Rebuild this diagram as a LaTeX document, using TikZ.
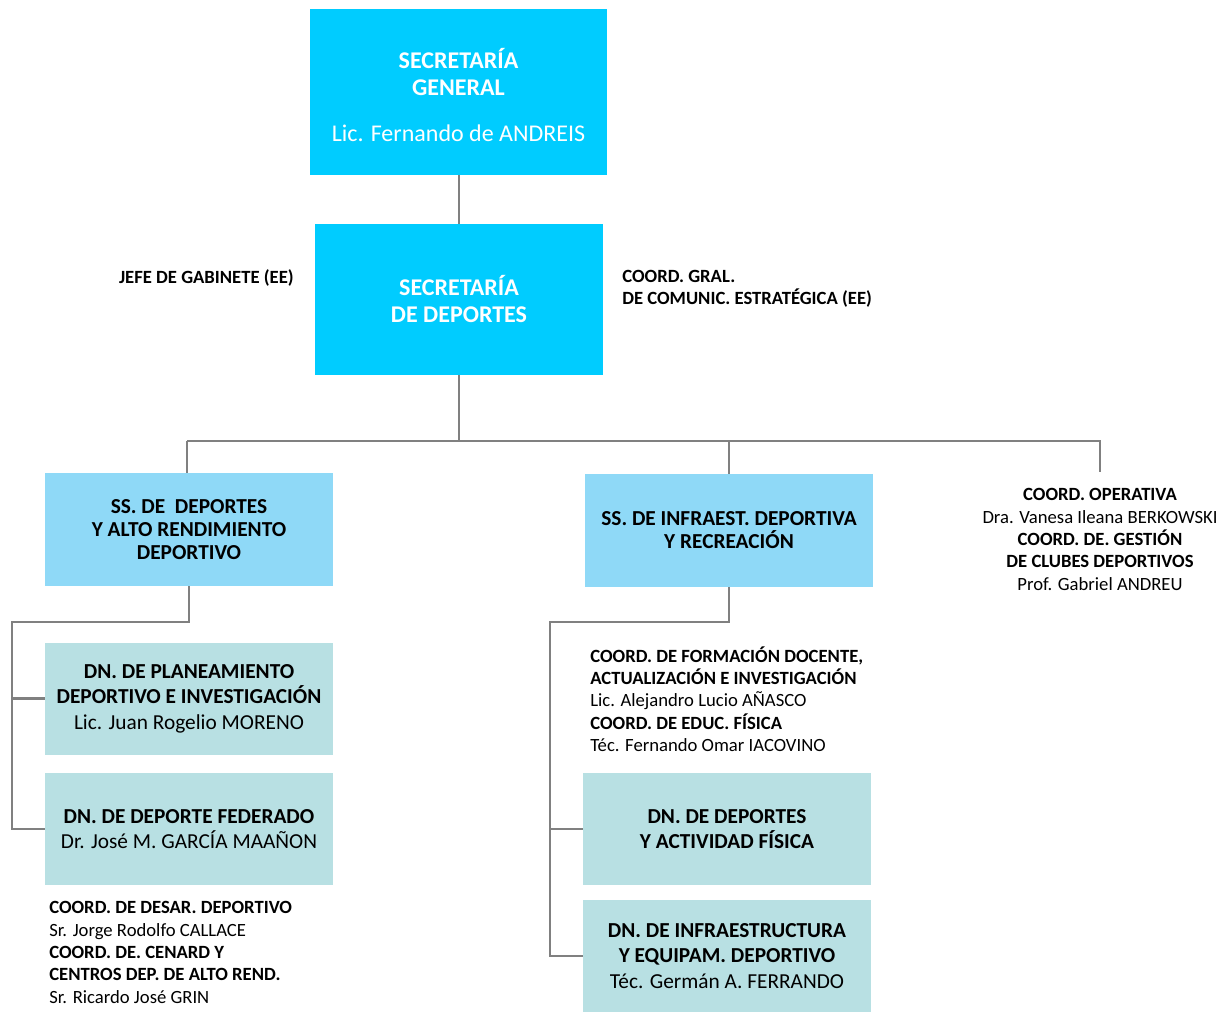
\documentclass[tikz,border=0pt]{standalone}
\usepackage{fontspec}
\setmainfont{Carlito}
\definecolor{sgcyan}{RGB}{0,204,255}
\definecolor{sslight}{RGB}{143,217,247}
\definecolor{dnteal}{RGB}{184,224,227}
\definecolor{linegray}{RGB}{128,128,128}
\begin{document}
\begin{tikzpicture}
 [
 x=0.75pt, y=-0.75pt,
 secbox/.style={rectangle, fill=sgcyan, text=white, align=center, minimum width=216pt, font=\fontsize{18}{20.25}\selectfont\bfseries},
 ssbox/.style={rectangle, fill=sslight, text=black, align=center, minimum width=216pt, minimum height=84.75pt, font=\fontsize{16}{17.25}\selectfont\bfseries},
 dnbox/.style={rectangle, fill=dnteal, text=black, align=center, minimum width=216pt, minimum height=84pt, font=\fontsize{16}{19.1}\selectfont},
 notetext/.style={inner sep=0pt, text=black, font=\fontsize{14}{16.75}\selectfont},
 orgline/.style={draw=linegray, line width=1.6pt}
 ]
 \useasboundingbox (0,0) rectangle (1227,1016);
 \node at (458.5,92) [secbox, minimum width=222.75pt, minimum height=124.5pt] (secgral) {\rule{0pt}{20pt}SECRETAR\'IA\\GENERAL\\[14pt]\mdseries Lic. Fernando de ANDREIS};
 \node at (459,299.5) [secbox, minimum height=113.25pt] (secdep) {SECRETAR\'IA\\DE DEPORTES};
 \node at (294,278) [notetext, anchor=east] (jefe) {\bfseries JEFE DE GABINETE (EE)};
 \node at (622,289) [notetext, anchor=west, align=left] (comunic) {\bfseries COORD. GRAL.\\\bfseries DE COMUNIC. ESTRAT\'EGICA (EE)};
 \node at (189,529.5) [ssbox] (ssalto) {SS. DE\ \ DEPORTES\\Y ALTO RENDIMIENTO\\DEPORTIVO};
 \node at (729,530.5) [ssbox] (ssinfra) {SS. DE INFRAEST. DEPORTIVA\\Y RECREACI\'ON};
 \node at (1100,539.5) [notetext, align=center] (operativa) {\bfseries COORD. OPERATIVA\\Dra. Vanesa Ileana BERKOWSKI\\\bfseries COORD. DE. GESTI\'ON\\\bfseries DE CLUBES DEPORTIVOS\\Prof. Gabriel ANDREU};
 \node at (189,698.5) [dnbox] (dnplan) {\bfseries DN. DE PLANEAMIENTO\\\bfseries DEPORTIVO E INVESTIGACI\'ON\\Lic. Juan Rogelio MORENO};
 \node at (189,829) [dnbox] (dnfed) {\bfseries DN. DE DEPORTE FEDERADO\\Dr. Jos\'e M. GARC\'IA MAA\~NON};
 \node at (49,952.5) [notetext, anchor=west, align=left] (desar) {\bfseries COORD. DE DESAR. DEPORTIVO\\Sr. Jorge Rodolfo CALLACE\\\bfseries COORD. DE. CENARD Y\\\bfseries CENTROS DEP. DE ALTO REND.\\Sr. Ricardo Jos\'e GRIN};
 \node at (590,699) [notetext, anchor=west, align=left] (formacion) {\bfseries COORD. DE FORMACI\'ON DOCENTE,\\\bfseries ACTUALIZACI\'ON E INVESTIGACI\'ON\\Lic. Alejandro Lucio A\~NASCO\\\bfseries COORD. DE EDUC. F\'ISICA\\T\'ec. Fernando Omar IACOVINO};
 \node at (727,829) [dnbox] (dnact) {\bfseries DN. DE DEPORTES\\\bfseries Y ACTIVIDAD F\'ISICA};
 \node at (727,956) [dnbox] (dnequip) {\bfseries DN. DE INFRAESTRUCTURA\\\bfseries Y EQUIPAM. DEPORTIVO\\T\'ec. Germ\'an A. FERRANDO};
 \coordinate (busleft) at (187,441);
 \coordinate (busright) at (1100,441);
 \coordinate (opend) at (1100,472);
 \coordinate (spinea) at (12,622);
 \coordinate (spineb) at (550,622);
 \draw[orgline] (secdep.north |- secgral.south) -- (secdep.north);
 \draw[orgline] (secdep.south) -- (secdep.south |- busleft);
 \draw[orgline] (busleft) -- (busright) -- (opend);
 \draw[orgline] (busleft) -- (busleft |- ssalto.north);
 \draw[orgline] (ssinfra.north |- busleft) -- (ssinfra.north);
 \draw[orgline] (ssalto.south) |- (spinea) |- (dnfed.west);
 \draw[orgline] (spinea |- dnplan.west) -- (dnplan.west);
 \draw[orgline] (ssinfra.south) |- (spineb) |- (dnequip.west);
 \draw[orgline] (spineb |- dnact.west) -- (dnact.west);
\end{tikzpicture}
\end{document}
